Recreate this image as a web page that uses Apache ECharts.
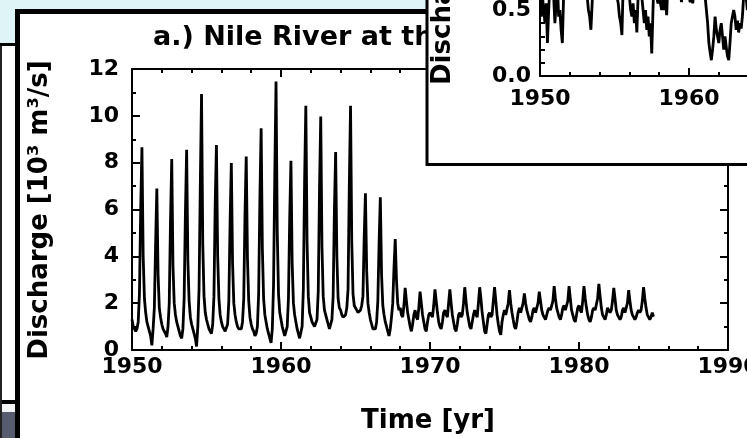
<!DOCTYPE html>
<html><head><meta charset="utf-8">
<script src="https://cdn.jsdelivr.net/npm/echarts@6/dist/echarts.min.js"></script>
<style>html,body{margin:0;padding:0;background:#dff4f6;}#c{width:747px;height:438px;}</style>
</head><body><div id="c"></div>
<script>
// Main panel: Nile River discharge [10^3 m^3/s], monthly (Jan..Dec)
const nileStartYear = 1950;
const nileMonthly = [
  [1.3,1.0,0.9,0.8,0.9,1.2,2.4,6.0,8.66,4.0,2.2,1.6],
  [1.2,1.0,0.8,0.6,0.2,0.9,1.8,4.5,6.9,3.2,1.8,1.4],
  [1.1,0.9,0.8,0.7,0.55,1.0,2.0,5.5,8.16,3.6,2.0,1.5],
  [1.2,1.0,0.8,0.6,0.5,0.9,2.2,5.8,8.55,3.8,2.1,1.4],
  [1.1,0.9,0.7,0.5,0.15,1.0,2.6,7.0,10.93,4.5,2.3,1.6],
  [1.3,1.1,0.9,0.8,0.7,1.1,2.3,6.2,8.75,4.0,2.2,1.5],
  [1.2,1.0,0.9,0.8,0.8,1.1,2.1,5.5,7.98,3.7,2.0,1.5],
  [1.2,1.0,0.9,0.85,0.9,1.2,2.2,5.8,8.26,3.9,2.1,1.4],
  [1.1,0.9,0.8,0.6,0.7,1.0,2.4,6.5,9.47,4.3,2.2,1.5],
  [1.2,0.9,0.7,0.5,0.3,0.9,2.8,7.5,11.47,5.0,2.4,1.6],
  [1.3,1.0,0.8,0.6,0.6,1.0,2.2,5.6,8.08,3.7,2.0,1.5],
  [1.2,0.9,0.7,0.5,0.5,1.0,2.6,7.2,10.43,4.6,2.3,1.6],
  [1.4,1.2,1.1,1.0,1.0,1.3,2.5,6.8,9.97,4.4,2.3,1.7],
  [1.5,1.3,1.1,0.9,0.9,1.3,2.3,5.9,8.45,4.0,2.2,1.8],
  [1.7,1.5,1.4,1.4,1.5,1.8,2.6,7.0,10.43,4.6,2.4,1.9],
  [1.8,1.7,1.6,1.6,1.7,1.9,2.3,4.8,6.69,3.4,2.0,1.6],
  [1.3,1.1,0.9,0.85,0.9,1.2,2.1,4.6,6.52,3.2,1.9,1.5],
  [1.2,1.0,0.8,0.6,0.9,1.4,2.0,3.5,4.74,3.0,2.0,1.7],
  [1.8,1.5,1.4,1.9,2.65,2.1,1.6,1.3,1.0,0.8,1.1,1.5],
  [1.7,1.4,1.3,1.8,2.49,2.0,1.5,1.2,0.9,0.8,1.2,1.5],
  [1.6,1.5,1.4,1.9,2.59,2.1,1.6,1.2,1.0,0.9,1.2,1.6],
  [1.7,1.5,1.4,2.0,2.59,2.0,1.5,1.2,0.9,0.8,1.1,1.5],
  [1.6,1.4,1.5,2.0,2.68,2.1,1.6,1.3,1.0,0.9,1.2,1.5],
  [1.7,1.5,1.4,2.0,2.68,2.2,1.6,1.2,0.8,0.7,1.1,1.5],
  [1.6,1.4,1.5,2.1,2.68,2.1,1.5,1.1,0.8,0.65,1.2,1.5],
  [1.7,1.5,1.5,2.0,2.56,2.0,1.6,1.3,1.0,0.9,1.2,1.6],
  [1.8,1.6,1.6,2.0,2.42,2.0,1.7,1.5,1.3,1.2,1.4,1.7],
  [1.8,1.6,1.6,2.0,2.49,2.1,1.7,1.5,1.4,1.3,1.5,1.7],
  [1.8,1.7,1.7,2.1,2.73,2.2,1.8,1.6,1.4,1.3,1.5,1.8],
  [1.9,1.7,1.7,2.1,2.73,2.2,1.7,1.5,1.3,1.2,1.5,1.8],
  [1.9,1.7,1.6,2.1,2.73,2.2,1.8,1.5,1.3,1.2,1.4,1.7],
  [1.8,1.7,1.7,2.2,2.82,2.3,1.8,1.5,1.4,1.3,1.5,1.8],
  [1.8,1.6,1.7,2.1,2.65,2.2,1.7,1.5,1.4,1.3,1.4,1.7],
  [1.8,1.6,1.6,2.0,2.56,2.1,1.7,1.5,1.4,1.3,1.4,1.6],
  [1.7,1.6,1.7,2.1,2.68,2.2,1.8,1.5,1.4,1.3,1.4,1.6],
  [1.42]
];
// Inset panel: second record (partly visible), monthly (Jan..Dec)
const insetStartYear = 1950;
const insetMonthly = [
  [0.75,0.45,0.6,0.5,0.4,0.55,0.25,0.5,0.7,0.9,0.8,0.6],
  [0.4,0.55,0.7,0.45,0.5,0.35,0.25,0.6,0.9,1.0,0.85,0.7],
  [0.8,0.7,0.65,0.62,0.6,0.58,0.62,0.8,0.95,0.9,0.85,0.75],
  [0.7,0.65,0.6,0.5,0.45,0.35,0.55,0.8,0.9,0.85,0.8,0.7],
  [0.7,0.68,0.65,0.62,0.6,0.6,0.62,0.8,0.95,0.9,0.8,0.72],
  [0.7,0.65,0.6,0.55,0.45,0.4,0.31,0.7,0.9,0.85,0.75,0.65],
  [0.6,0.5,0.45,0.55,0.4,0.5,0.33,0.6,0.85,0.8,0.6,0.5],
  [0.4,0.5,0.35,0.45,0.3,0.4,0.17,0.5,0.8,0.75,0.6,0.55],
  [0.6,0.55,0.5,0.58,0.5,0.6,0.46,0.7,0.9,0.85,0.7,0.65],
  [0.7,0.65,0.62,0.6,0.6,0.62,0.56,0.75,0.9,0.85,0.75,0.7],
  [0.6,0.56,0.62,0.55,0.65,0.7,0.68,0.8,0.95,0.9,0.8,0.7],
  [0.65,0.6,0.5,0.4,0.25,0.18,0.12,0.2,0.3,0.45,0.35,0.3],
  [0.25,0.35,0.4,0.3,0.2,0.3,0.22,0.15,0.12,0.25,0.4,0.45],
  [0.5,0.45,0.35,0.42,0.33,0.4,0.36,0.45,0.6,0.7,0.6,0.5],
  [0.6,0.5,0.45,0.4,0.35,0.4,0.5,0.7,0.9,0.8,0.7,0.6]
];
const mainTitle = 'a.) Nile River at the Aswan Dam';
const yName = 'Discharge [10\u00B3 m\u00B3/s]';
const xName = 'Time [yr]';

function toPairs(start, monthly) {
  const out = [];
  monthly.forEach((row, i) => row.forEach((v, m) => out.push([start + i + m / 12, v])));
  return out;
}

const FONT = 'DejaVu Sans';
const chart = echarts.init(document.getElementById('c'));

const tickStyle = { color: '#000', width: 2 };
function axisCommon(extra) {
  return Object.assign({
    axisLine: { show: true, onZero: false, lineStyle: { color: '#000', width: 2 } },
    axisTick: { show: true, inside: true, length: 8, lineStyle: tickStyle },
    splitLine: { show: false },
    minorSplitLine: { show: false }
  }, extra);
}
const lbl = (margin, fmt) => ({ show: true, color: '#000', fontFamily: FONT, fontWeight: 'bold', fontSize: 22, margin: margin, formatter: fmt });
const yearFmt = v => String(Math.round(v));

chart.setOption({
  backgroundColor: '#dff4f6',
  animation: false,
  grid: [
    { left: 132, right: 19, top: 69, bottom: 88, z: 10, outerBoundsMode: 'none', containLabel: false },
    { left: 540, top: -56, width: 596, height: 132, z: 21, outerBoundsMode: 'none', containLabel: false }
  ],
  xAxis: [
    axisCommon({ type: 'value', gridIndex: 0, position: 'bottom', min: 1950, max: 1990, interval: 10,
      minorTick: { show: true, splitNumber: 5, length: 4, lineStyle: tickStyle },
      axisLabel: lbl(6, yearFmt), z: 10 }),
    axisCommon({ type: 'value', gridIndex: 0, position: 'top', min: 1950, max: 1990, interval: 10,
      minorTick: { show: true, splitNumber: 5, length: 4, lineStyle: tickStyle },
      axisLabel: { show: false }, z: 10 }),
    axisCommon({ type: 'value', gridIndex: 1, position: 'bottom', min: 1950, max: 1990, interval: 10,
      minorTick: { show: true, splitNumber: 5, length: 4, lineStyle: tickStyle },
      axisLabel: lbl(12, yearFmt), z: 21 })
  ],
  yAxis: [
    axisCommon({ type: 'value', gridIndex: 0, position: 'left', min: 0, max: 12, interval: 2,
      minorTick: { show: true, splitNumber: 2, length: 4, lineStyle: tickStyle },
      axisLabel: lbl(13, v => String(v)), z: 10 }),
    axisCommon({ type: 'value', gridIndex: 0, position: 'right', min: 0, max: 12, interval: 2,
      minorTick: { show: true, splitNumber: 2, length: 4, lineStyle: tickStyle },
      axisLabel: { show: false }, z: 10 }),
    axisCommon({ type: 'value', gridIndex: 1, position: 'left', min: 0, max: 1, interval: 0.5,
      axisTick: { show: true, inside: true, length: 5, lineStyle: tickStyle },
      minorTick: { show: true, splitNumber: 5, length: 5, lineStyle: tickStyle },
      axisLabel: lbl(9, v => v.toFixed(1)), z: 21 })
  ],
  series: [
    { type: 'line', xAxisIndex: 0, yAxisIndex: 0, data: toPairs(nileStartYear, nileMonthly),
      showSymbol: false, symbol: 'none', lineStyle: { color: '#000', width: 2.8 }, z: 11, clip: true },
    { type: 'line', xAxisIndex: 2, yAxisIndex: 2, data: toPairs(insetStartYear, insetMonthly),
      showSymbol: false, symbol: 'none', lineStyle: { color: '#000', width: 2.8 }, z: 22, clip: true }
  ],
  graphic: [
    { type: 'rect', z: 1, shape: { x: 0, y: 46, width: 16, height: 354 }, style: { fill: '#ffffff' } },
    { type: 'rect', z: 1, shape: { x: 0, y: 43, width: 16, height: 3 }, style: { fill: '#000' } },
    { type: 'rect', z: 1, shape: { x: 0, y: 400, width: 16, height: 4 }, style: { fill: '#000' } },
    { type: 'rect', z: 1, shape: { x: 0, y: 404, width: 16, height: 8 }, style: { fill: '#f2f4f6' } },
    { type: 'rect', z: 1, shape: { x: 0, y: 412, width: 16, height: 26 }, style: { fill: '#575b6e' } },
    { type: 'rect', z: 1, shape: { x: 0, y: 46, width: 2, height: 392 }, style: { fill: '#222' } },
    { type: 'rect', z: 2, shape: { x: 17.5, y: 11.5, width: 900, height: 600 }, style: { fill: '#fff', stroke: '#000', lineWidth: 5 } },
    { type: 'text', z: 5, x: 153, y: 38, style: { text: mainTitle, font: 'bold 27px "DejaVu Sans"', fill: '#000', align: 'left', verticalAlign: 'middle' } },
    { type: 'text', z: 5, x: 40, y: 210, rotation: Math.PI / 2, style: { text: yName, font: 'bold 26px "DejaVu Sans"', fill: '#000', align: 'center', verticalAlign: 'middle' } },
    { type: 'text', z: 5, x: 428, y: 421, style: { text: xName, font: 'bold 26px "DejaVu Sans"', fill: '#000', align: 'center', verticalAlign: 'middle' } },
    { type: 'rect', z: 20, shape: { x: 427, y: -20, width: 400, height: 184.5 }, style: { fill: '#fff', stroke: '#000', lineWidth: 3 } },
    { type: 'text', z: 21, x: 443, y: 85, rotation: Math.PI / 2, style: { text: yName, font: 'bold 26px "DejaVu Sans"', fill: '#000', align: 'left', verticalAlign: 'middle' } }
  ]
});
</script>
</body></html>
